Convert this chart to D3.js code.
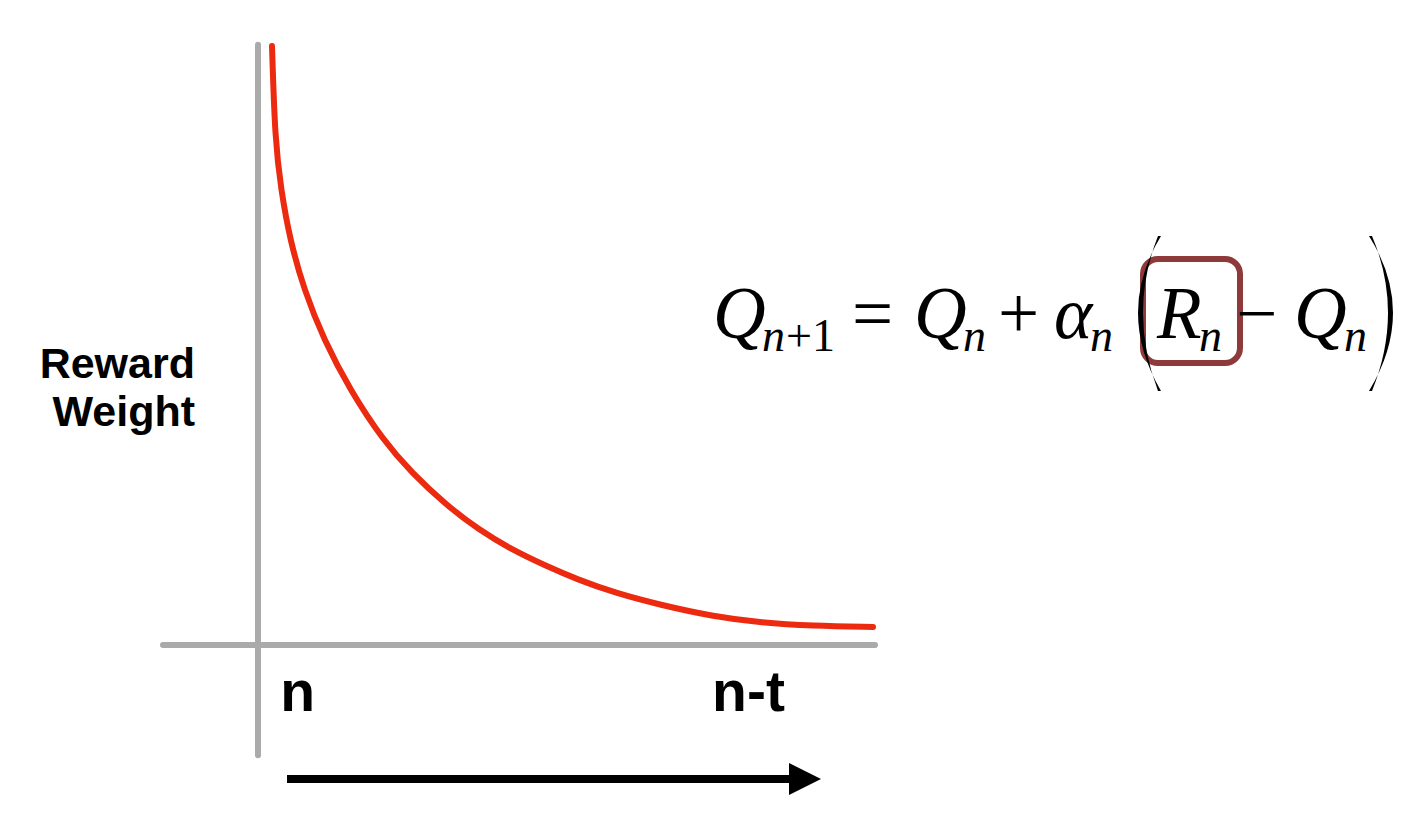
<!DOCTYPE html>
<html>
<head>
<meta charset="utf-8">
<script src="https://cdn.jsdelivr.net/npm/d3@7"></script>
<style>
  html, body { margin: 0; padding: 0; background: #ffffff; }
  svg { display: block; }
</style>
</head>
<body>
<svg id="chart" width="1423" height="818"></svg>
<script>
// ---- data ----
const steps   = [2.27, 2.76, 3.73, 5.19, 7.46, 10.70, 14.91, 20.26, 24.96, 30.47, 35.82, 41.17, 46.68, 51.86, 57.86, 65.15, 73.58, 81.69, 89.79, 99.68];
const weights = [100, 84.3, 76.0, 67.6, 59.3, 50.9, 42.6, 34.2, 28.7, 23.4, 19.2, 15.9, 13.2, 10.9, 8.7, 6.7, 4.8, 3.7, 3.2, 3.0];
const tickLabels = ["n", "n-t"];
const tickValues = [3.6, 73.6];
const yLabelLines = ["Reward", "Weight"];

const svg = d3.select("#chart");

const x = d3.scaleLinear().domain([0, 100]).range([258, 875]);
const y = d3.scaleLinear().domain([0, 100]).range([645, 46]);

const axisColor = "#aaaaaa";

// horizontal axis
svg.append("line")
  .attr("x1", x(-15.4)).attr("x2", x(100))
  .attr("y1", y(0)).attr("y2", y(0))
  .attr("stroke", axisColor).attr("stroke-width", 6).attr("stroke-linecap", "round");

// vertical axis
svg.append("line")
  .attr("x1", x(0)).attr("x2", x(0))
  .attr("y1", y(100.2)).attr("y2", y(-18.4))
  .attr("stroke", axisColor).attr("stroke-width", 6).attr("stroke-linecap", "round");

// decay curve
const pts = steps.map((s, i) => [s, weights[i]]);
svg.append("path")
  .datum(pts)
  .attr("d", d3.line().x(d => x(d[0])).y(d => y(d[1])).curve(d3.curveBasis))
  .attr("fill", "none")
  .attr("stroke", "#ec2a10")
  .attr("stroke-width", 6)
  .attr("stroke-linecap", "round");

// tick labels
svg.selectAll("text.tick")
  .data(tickLabels)
  .join("text")
  .attr("class", "tick")
  .attr("x", (d, i) => x(tickValues[i]))
  .attr("y", 711)
  .attr("font-family", "Liberation Sans, Arial, sans-serif")
  .attr("font-weight", "bold")
  .attr("font-size", 57)
  .attr("fill", "#000")
  .text(d => d);

// y label
svg.selectAll("text.ylab")
  .data(yLabelLines)
  .join("text")
  .attr("class", "ylab")
  .attr("x", 195)
  .attr("y", (d, i) => 378 + i * 48)
  .attr("text-anchor", "end")
  .attr("font-family", "Liberation Sans, Arial, sans-serif")
  .attr("font-weight", "bold")
  .attr("font-size", 43)
  .attr("fill", "#000")
  .text(d => d);

// time arrow
svg.append("line")
  .attr("x1", 287).attr("x2", 792)
  .attr("y1", 779).attr("y2", 779)
  .attr("stroke", "#000").attr("stroke-width", 8);
svg.append("path")
  .attr("d", "M789,763 L821,779 L789,795 Z")
  .attr("fill", "#000");

// ---- equation ----
const eq = svg.append("g");
const serif = "Liberation Serif, Times New Roman, serif";
const mainSize = 73, subSize = 46;
const base = 338, subBase = 351;

function put(txt, px, py, size, italic) {
  eq.append("text")
    .attr("x", px).attr("y", py)
    .attr("font-family", serif)
    .attr("font-size", size)
    .attr("font-style", italic ? "italic" : "normal")
    .attr("fill", "#000")
    .text(txt);
}

// highlight box around R_n
eq.append("rect")
  .attr("x", 1143).attr("y", 259)
  .attr("width", 97).attr("height", 104)
  .attr("rx", 15)
  .attr("fill", "none")
  .attr("stroke", "#8e3a3a")
  .attr("stroke-width", 6);

put("Q", 713, base, mainSize, true);
put("n", 762, subBase, subSize, true);
put("+1", 786, subBase, subSize, false);
put("=", 852, base, mainSize, false);
put("Q", 914, base, mainSize, true);
put("n", 963, subBase, subSize, true);
put("+", 998, base, mainSize, false);
put("\u03b1", 1054, base, mainSize, true);
put("n", 1090, subBase, subSize, true);
put("R", 1157, base, mainSize, true);
put("n", 1199, subBase, subSize, true);
put("\u2212", 1236, base, mainSize, false);
put("Q", 1294, base, mainSize, true);
put("n", 1344, subBase, subSize, true);

// big parentheses (crescent shapes)
eq.append("path")
  .attr("d", "M1161,236 Q1115,312 1161,391 L1158,391 Q1128,312 1158,236 Z")
  .attr("fill", "#000");
eq.append("path")
  .attr("d", "M1369,236 Q1417,312 1369,391 L1372,391 Q1404,312 1372,236 Z")
  .attr("fill", "#000");
</script>
</body>
</html>
